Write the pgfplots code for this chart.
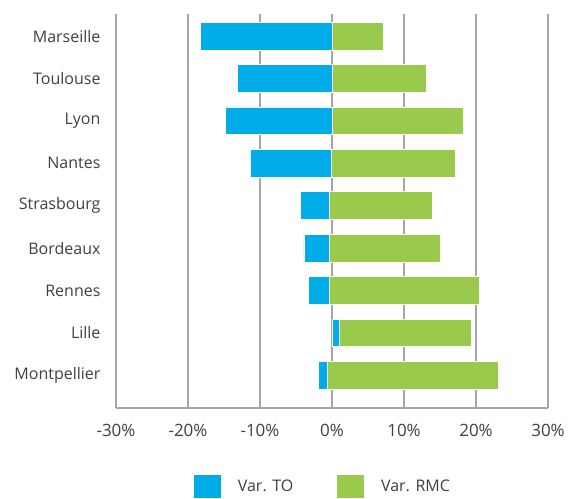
\documentclass[border=0pt]{standalone}
\usepackage{pgfplots}
\pgfplotsset{compat=1.18}
\usepackage{pgfplotstable}
\usepackage{fontspec}
\setmainfont{Open Sans}
\definecolor{toblue}{RGB}{0,173,232}
\definecolor{rmcgreen}{RGB}{154,202,76}
\definecolor{gridgray}{RGB}{166,166,166}
\definecolor{txt}{RGB}{64,64,64}
% y, start (invisible), Var. TO segment, Var. RMC segment
\pgfplotstableread{
y start to rmc
8 -18.3 18.3 7.2
7 -13.1 13.1 13.1
6 -14.8 14.8 18.2
5 -11.4 11.3 17.2
4 -4.4 4.0 14.4
3 -3.9 3.5 15.4
2 -3.3 2.9 20.9
1 0.1 0.9 18.3
0 -1.9 1.3 23.7
}\datatab
\begin{document}
\begin{tikzpicture}
\begin{axis}[
  scale only axis,
  width=432pt, height=394pt,
  xbar stacked,
  stack negative=on previous,
  bar width=0.655,
  xmin=-30, xmax=30,
  ymin=-0.77, ymax=8.52,
  xtick={-30,-20,...,30},
  ytick={0,...,8},
  yticklabels={Montpellier,Lille,Rennes,Bordeaux,Strasbourg,Nantes,Lyon,Toulouse,Marseille},
  xticklabel={\pgfmathprintnumber{\tick}\%},
  /pgf/number format/assume math mode=true,
  axis x line*=bottom, axis y line*=left,
  axis line style={gridgray, line width=1.3pt, -},
  xmajorgrids, grid style={gridgray, line width=1.3pt},
  major tick length=0pt,
  tick label style={font=\fontsize{16}{19}\selectfont, text=txt},
  xticklabel style={yshift=-13pt, font=\fontsize{17}{20}\selectfont},
  yticklabel style={xshift=-12pt},
  legend columns=3,
  legend style={draw=none, at={(0.178,-0.1675)}, anchor=north west, inner sep=0pt,
    font=\fontsize{16}{19}\selectfont, text=txt,
    /tikz/every odd column/.append style={column sep=14pt},
    /tikz/every even column/.append style={column sep=41pt}},
  legend image code/.code={\fill[#1] (0pt,-12pt) rectangle (28pt,12pt);},
]
\addplot[draw=none, fill=none] table[x=start, y=y] {\datatab};
\addplot[fill=toblue, draw=white, line width=0.8pt] table[x=to, y=y] {\datatab};
\addplot[fill=rmcgreen, draw=white, line width=0.8pt] table[x=rmc, y=y] {\datatab};
\legend{,Var. TO, Var. RMC}
\coordinate (o) at (rel axis cs:0,0);
\end{axis}
\pgfresetboundingbox
\path ([shift={(-116pt,-90pt)}]o) rectangle ([shift={(453pt,408pt)}]o);
\end{tikzpicture}
\end{document}
